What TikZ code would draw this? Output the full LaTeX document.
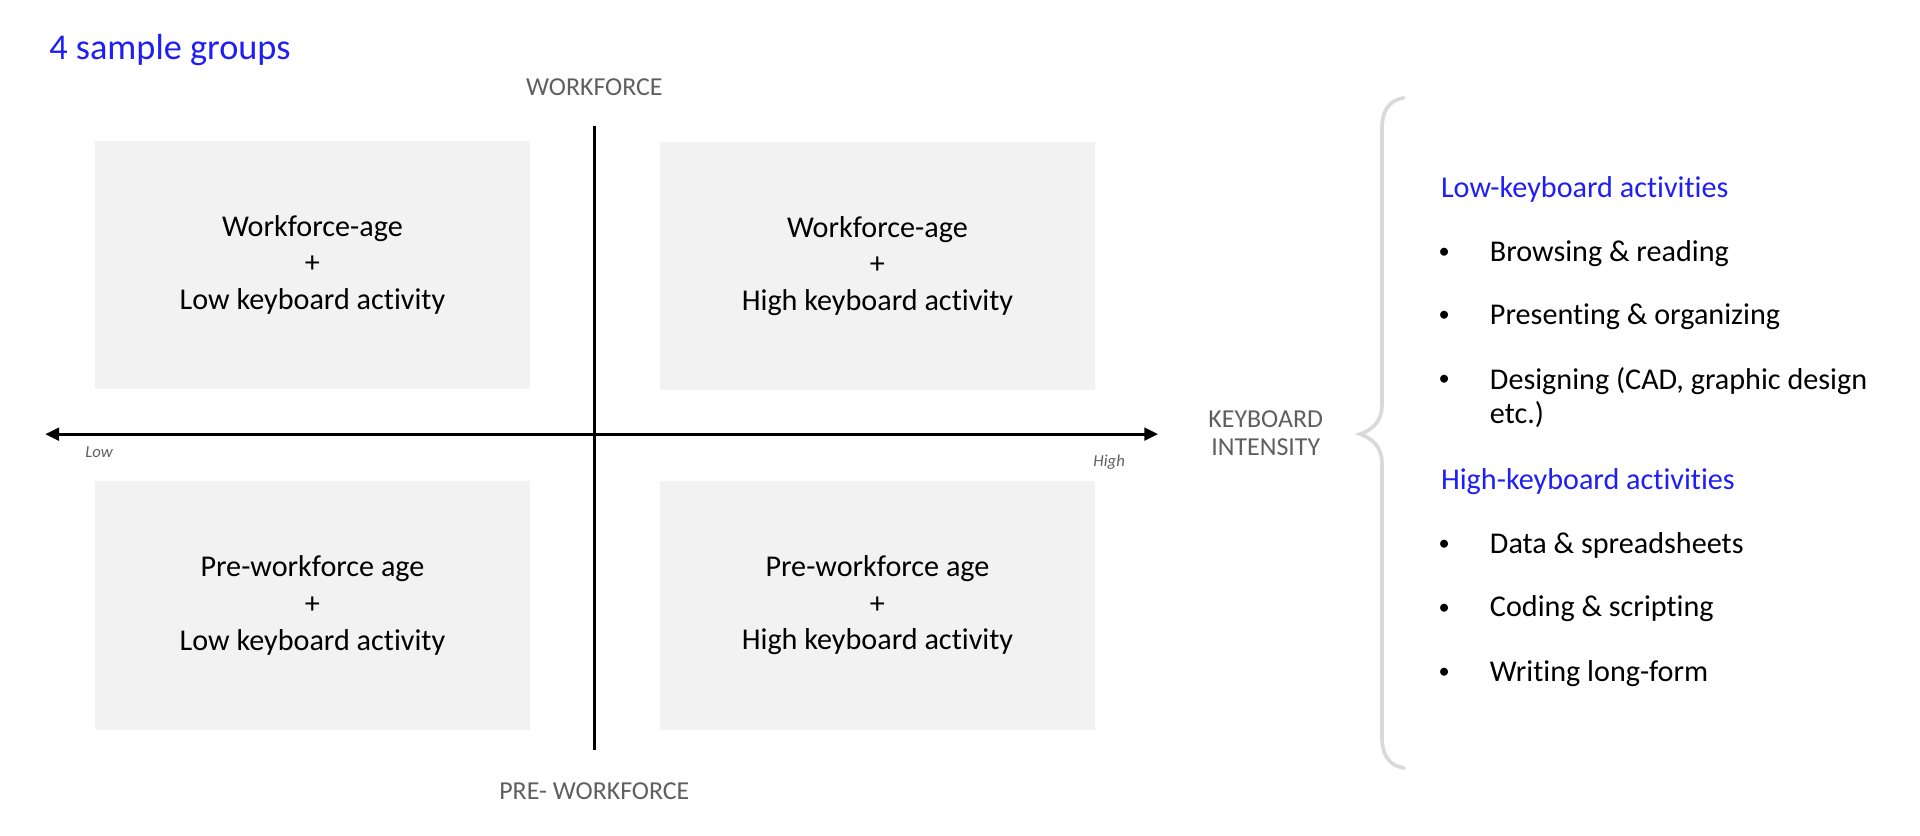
\documentclass[tikz,border=0pt]{standalone}
\usepackage{fontspec}
\setmainfont{Carlito}[Ligatures=NoCommon]
\usetikzlibrary{arrows.meta}
\definecolor{titleblue}{RGB}{30,30,245}
\definecolor{boxgray}{RGB}{242,242,242}
\definecolor{labgray}{RGB}{95,95,95}
\definecolor{bracegray}{RGB}{217,217,217}
\begin{document}
\begin{tikzpicture}[x=0.6pt,y=-0.6pt,
  quad/.style={fill=boxgray, draw=none, inner sep=0pt, align=center,
    font=\fontsize{14.8}{18}\selectfont, text=black},
  axlab/.style={font=\fontsize{12.7}{15}\selectfont, text=labgray, inner sep=0pt, align=center},
  endlab/.style={font=\fontsize{8.2}{10}\selectfont\itshape, text=labgray, inner sep=0pt},
  head/.style={font=\fontsize{14.8}{18}\selectfont, text=titleblue, anchor=west, inner sep=0pt},
  item/.style={font=\fontsize{14.8}{16.8}\selectfont, text=black, anchor=west, inner sep=0pt, align=left},
  bul/.style={font=\fontsize{11}{13}\selectfont, text=black, inner sep=0pt},
  axis/.style={line width=1.5pt, draw=black},
  bracestyle/.style={draw=bracegray, line width=1.8pt, line cap=round}
]
\useasboundingbox (0,0) rectangle (1570,683);

% title
\node[font=\fontsize{17.8}{20}\selectfont, text=titleblue, anchor=west, inner sep=0pt] (title) at (40,41) {4 sample groups};

% quadrant boxes
\node[quad, minimum width=213pt, minimum height=121.8pt] (tl) at (255.5,216.5) {Workforce-age\\+\\Low keyboard activity};
\node[quad, minimum width=213pt, minimum height=121.8pt] (tr) at (717.5,217.5) {Workforce-age\\+\\High keyboard activity};
\node[quad, minimum width=213pt, minimum height=122.4pt] (bl) at (255.5,495) {Pre-workforce age\\+\\Low keyboard activity};
\node[quad, minimum width=213pt, minimum height=122.4pt] (br) at (717.5,495) {Pre-workforce age\\+\\High keyboard activity};

% axes
\coordinate (vtop) at (486,103);
\coordinate (vbot) at (486,613);
\coordinate (hl) at (37,355);
\coordinate (hr) at (947,355);
\draw[axis] (vtop) -- (vbot);
\draw[axis, {Triangle[length=6.8pt,width=6.2pt]}-{Triangle[length=6.8pt,width=6.2pt]}] (hl) -- (hr);

% axis labels
\node[axlab] (wf) at (486,71) {WORKFORCE};
\node[axlab] (pwf) at (486,647) {PRE- WORKFORCE};
\node[axlab] (ki) at (1035,354.5) {KEYBOARD\\[-1.2pt]INTENSITY};
\node[endlab] (low) at (81,370) {Low};
\node[endlab] (high) at (907,378) {High};

% brace
\draw[bracestyle] (1148,80) .. controls (1136,82) and (1130,90) .. (1130,106)
  -- (1130,332) .. controls (1130,345) and (1121,352) .. (1112,355)
  .. controls (1121,358) and (1130,365) .. (1130,378)
  -- (1130,602) .. controls (1130,618) and (1136,626) .. (1148,628);

% activity lists
\node[head] (lowh) at (1178,155) {Low-keyboard activities};
\node[bul] (b1) at (1181,207) {•};
\node[item] (i1) at (1218,207) {Browsing \& reading};
\node[bul] (b2) at (1181,259) {•};
\node[item] (i2) at (1218,259) {Presenting \& organizing};
\node[bul] (b3) at (1181,311) {•};
\node[item] (i3) at (1218,325) {Designing (CAD, graphic design\\etc.)};

\node[head] (highh) at (1178,394) {High-keyboard activities};
\node[bul] (b4) at (1181,446) {•};
\node[item] (i4) at (1218,446) {Data \& spreadsheets};
\node[bul] (b5) at (1181,498) {•};
\node[item] (i5) at (1218,498) {Coding \& scripting};
\node[bul] (b6) at (1181,551) {•};
\node[item] (i6) at (1218,551) {Writing long-form};
\end{tikzpicture}
\end{document}
